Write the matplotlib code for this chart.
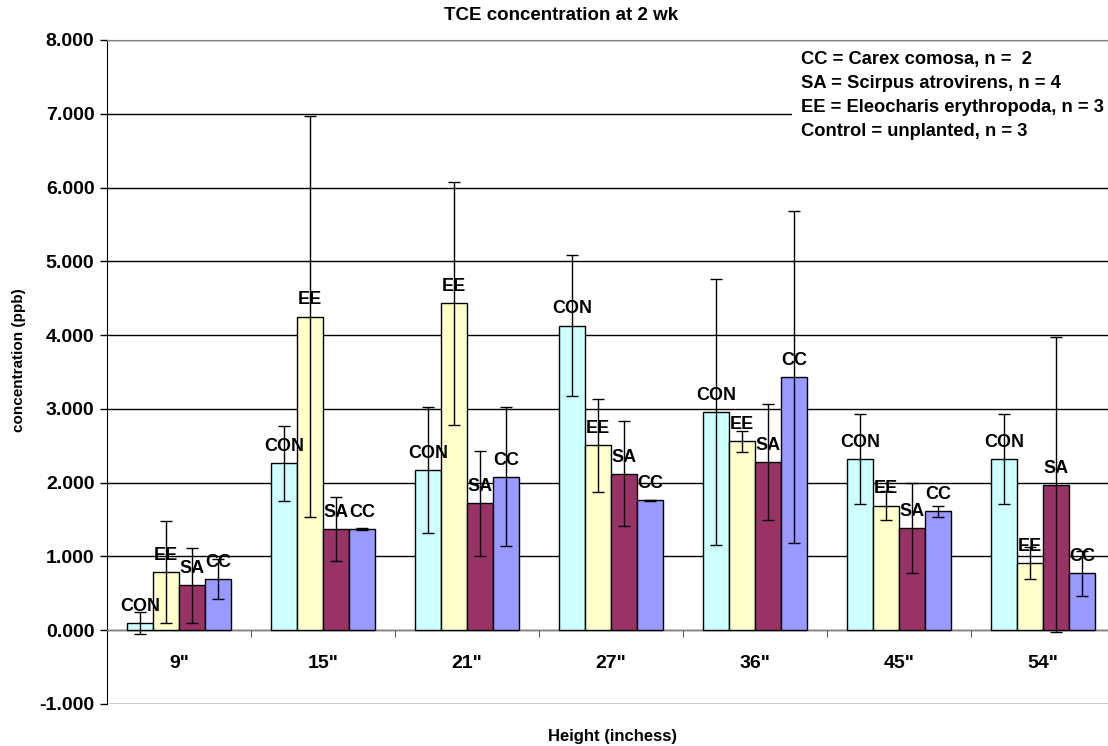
import numpy as np
import matplotlib
matplotlib.use("Agg")
import matplotlib.pyplot as plt

# data
heights = ['9"', '15"', '21"', '27"', '36"', '45"', '54"']
series = ["CON", "EE", "SA", "CC"]
con = [0.10, 2.26, 2.17, 4.13, 2.96, 2.32, 2.32]
ee = [0.79, 4.25, 4.43, 2.51, 2.56, 1.69, 0.91]
sa = [0.61, 1.37, 1.72, 2.12, 2.28, 1.38, 1.97]
cc = [0.69, 1.37, 2.08, 1.76, 3.43, 1.61, 0.77]
con_err = [0.15, 0.51, 0.85, 0.95, 1.80, 0.61, 0.61]
ee_err = [0.69, 2.72, 1.65, 0.63, 0.14, 0.20, 0.22]
sa_err = [0.51, 0.43, 0.71, 0.71, 0.79, 0.61, 2.00]
cc_err = [0.27, 0.01, 0.94, 0.01, 2.25, 0.07, 0.30]
colors = ["#CCFFFF", "#FFFFCC", "#993366", "#9999FF"]
legend_lines = [
    "CC = Carex comosa, n =  2",
    "SA = Scirpus atrovirens, n = 4",
    "EE = Eleocharis erythropoda, n = 3",
    "Control = unplanted, n = 3",
]

plt.rcParams["font.family"] = ["Liberation Sans", "DejaVu Sans"]
plt.rcParams["font.weight"] = "bold"

fig = plt.figure(figsize=(11.08, 7.46), dpi=100)
ax = fig.add_axes([107 / 1108, 42 / 746, 1008 / 1108, 664 / 746])

x = np.arange(len(heights))
w = 0.18
offsets = [-1.5 * w, -0.5 * w, 0.5 * w, 1.5 * w]
vals = [con, ee, sa, cc]
errs = [con_err, ee_err, sa_err, cc_err]

for k in range(4):
    xs = x + offsets[k]
    ax.bar(xs, vals[k], w, color=colors[k], edgecolor="black", linewidth=1, zorder=3)
    ax.errorbar(xs, vals[k], yerr=errs[k], fmt="none", ecolor="black",
                elinewidth=1, capsize=4, capthick=1, zorder=4)
    for xi, v in zip(xs, vals[k]):
        ax.annotate(series[k], (xi, v), xytext=(0, 12), textcoords="offset points",
                    ha="center", va="center", fontsize=13, fontweight="bold", zorder=5)

ax.set_xlim(-0.5, len(heights) - 0.5)
ax.set_ylim(-1, 8)
ax.set_yticks(np.arange(-1, 9))
ax.set_yticklabels([f"{v:.3f}" for v in range(-1, 9)], fontsize=14, fontweight="bold")
ax.yaxis.grid(True, color="black", linewidth=1, zorder=0)
ax.tick_params(axis="y", direction="out", length=5, width=1, pad=4)

# category axis crossing at zero
ax.spines["bottom"].set_position(("data", 0))
ax.spines["bottom"].set_color("#808080")
ax.set_xticks(x)
ax.set_xticklabels(heights, fontsize=14, fontweight="bold")
ax.tick_params(axis="x", length=0, pad=18)
ax.set_xticks(np.arange(-0.5, len(heights)), minor=True)
ax.tick_params(axis="x", which="minor", length=5, direction="out", color="#404040")
for s in ["top", "right"]:
    ax.spines[s].set_color("#808080")
ax.spines["left"].set_color("black")

ax.text(0.688, 0.983, "\n".join(legend_lines), transform=ax.transAxes,
        ha="left", va="top", fontsize=13.2, fontweight="bold", linespacing=1.53,
        bbox=dict(facecolor="white", edgecolor="none", pad=6), zorder=6)

fig.text(561 / 1108, 1 - 15 / 746, "TCE concentration at 2 wk", ha="center",
         va="center", fontsize=13.5, fontweight="bold")
fig.text(612 / 1108, 1 - 737 / 746, "Height (inchess)", ha="center",
         va="center", fontsize=12, fontweight="bold")
fig.text(19 / 1108, 1 - 360 / 746, "concentration (ppb)", ha="center",
         va="center", rotation=90, fontsize=11, fontweight="bold")

fig.savefig("out.png", dpi=100)
